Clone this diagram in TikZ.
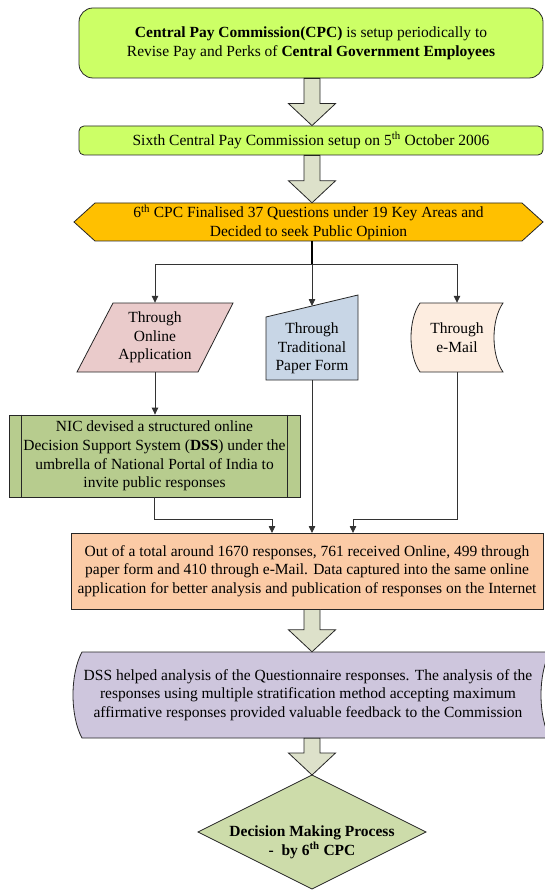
\documentclass[tikz,border=0pt]{standalone}
\usepackage{fontspec}
\setmainfont{Liberation Serif}
\usetikzlibrary{calc,arrows.meta}
\pgfdeclarelayer{background}
\pgfsetlayers{background,main}
\definecolor{cLime}{HTML}{CCFF66}
\definecolor{cArrow}{HTML}{DDE1CA}
\definecolor{cHex}{HTML}{FFC000}
\definecolor{cOnline}{HTML}{EACBCB}
\definecolor{cTrap}{HTML}{C8D6E6}
\definecolor{cMail}{HTML}{FDEDE0}
\definecolor{cNic}{HTML}{B7CC8E}
\definecolor{cOrange}{HTML}{FBCBA6}
\definecolor{cPurple}{HTML}{CEC6DD}
\definecolor{cDiamond}{HTML}{CDDCAA}
\newcommand\blockarr[2]{%
  \path[blockarrow] let \p1=(#1), \p2=(#2) in
    (\x1-8pt,\y1) -- (\x1-8pt,\y2+22pt) -- (\x1-23.5pt,\y2+22pt) -- (\x1,\y2)
    -- (\x1+23.5pt,\y2+22pt) -- (\x1+8pt,\y2+22pt) -- (\x1+8pt,\y1) -- cycle;}
\begin{document}
\begin{tikzpicture}[x=1pt,y=-1pt,
  every node/.style={font=\fontsize{15.5}{18.7}\selectfont, align=center, inner sep=0pt},
  outl/.style={draw=black!85, line width=0.8pt},
  box/.style={outl, rectangle},
  conn/.style={draw=black!80, line width=0.8pt, -{Triangle[length=7pt,width=6.5pt]}},
  stem/.style={draw=black, line width=1.6pt},
  blockarrow/.style={outl, fill=cArrow, line join=miter}]
\useasboundingbox (0,0) rectangle (544,890);

% background shapes
\begin{pgfonlayer}{background}
\path[outl, fill=cHex] (74,222) -- (95,203) -- (522,203) -- (543,222) -- (522,241) -- (95,241) -- cycle;
\path[outl, fill=cOnline] (113,303) -- (233,303) -- (198,372) -- (77,372) -- cycle;
\path[outl, fill=cTrap] (266,317) -- (358,295) -- (358,380) -- (266,380) -- cycle;
\path[outl, fill=cMail] (420,303) -- (503,303) .. controls (491,320) and (491,355) .. (503,372)
   -- (420,372) .. controls (408,355) and (408,320) .. (420,303) -- cycle;
\path[outl, fill=cPurple] (82,652) -- (550,652) .. controls (538,674) and (538,716) .. (550,738)
   -- (82,738) .. controls (70,716) and (70,674) .. (82,652) -- cycle;
\path[outl, fill=cDiamond] (312,775) -- (426,832) -- (312,889) -- (198,832) -- cycle;
\end{pgfonlayer}

\coordinate (axis) at (312,0);

\node[box, fill=cLime, rounded corners=14pt, minimum width=464, minimum height=70] (cpc) at (311,43)
  {\textbf{Central Pay Commission(CPC)} is setup periodically to\\
   Revise Pay and Perks of \textbf{Central Government Employees}};
\node[box, fill=cLime, rounded corners=5pt, minimum width=464, minimum height=29] (six) at (311,140.5)
  {Sixth Central Pay Commission setup on 5\textsuperscript{th} October 2006};
\node[minimum width=469, minimum height=38] (hex) at (308.5,222)
  {6\textsuperscript{th} CPC Finalised 37 Questions under 19 Key Areas and\\Decided to seek Public Opinion};
\node[minimum width=156, minimum height=69] (online) at (155,337.5) {Through\\Online\\Application};
\node[minimum width=92, minimum height=63] (trap) at (312,348.5) {Through\\Traditional\\Paper Form};
\coordinate (trapin) at (312,306);
\node[minimum width=92, minimum height=69] (email) at (457,337.5) {Through\\e-Mail};
\node[box, fill=cNic, minimum width=291, minimum height=82] (nic) at (154.5,456)
  {NIC devised a structured online\\Decision Support System (\textbf{DSS}) under the\\
   umbrella of National Portal of India to\\invite public responses};
\draw[outl] ($(nic.north west)+(13,0)$) -- ($(nic.south west)+(13,0)$);
\draw[outl] ($(nic.north east)+(-13,0)$) -- ($(nic.south east)+(-13,0)$);
\node[box, fill=cOrange, minimum width=472, minimum height=76] (orange) at (307,571)
  {Out of a total around 1670 responses, 761 received Online, 499 through\\
   paper form and 410 through e-Mail. Data captured into the same online\\
   application for better analysis and publication of responses on the Internet};
\coordinate (inL) at (272,533);
\coordinate (inM) at (312,533);
\coordinate (inR) at (353,533);
\node[minimum width=468, minimum height=86] (dss) at (308,695)
  {DSS helped analysis of the Questionnaire responses. The analysis of the\\
   responses using multiple stratification method accepting maximum\\
   affirmative responses provided valuable feedback to the Commission};
\node (dec) at (312,842) {\bfseries Decision Making Process\\\bfseries -\ \ by 6\textsuperscript{th} CPC};
\coordinate (dectop) at (312,775);

% connectors
\coordinate (split) at (312,264);
\draw[stem] (split |- hex.south) -- (split);
\draw[conn] (split) -| (online.north);
\draw[conn] (split) -- (trapin);
\draw[conn] (split) -| (email.north);
\draw[conn] (online.south) -- (online.south |- nic.north);
\draw[conn] (nic.south) -- ++(0,22) -| (inL);
\draw[conn] (trap.south) -- (inM);
\draw[conn] (email.south) -- ++(0,147) -| (inR);

% block arrows
\blockarr{cpc.south -| axis}{six.north -| axis}
\blockarr{six.south -| axis}{hex.north -| axis}
\blockarr{orange.south -| axis}{dss.north -| axis}
\blockarr{dss.south -| axis}{dectop}
\end{tikzpicture}
\end{document}
